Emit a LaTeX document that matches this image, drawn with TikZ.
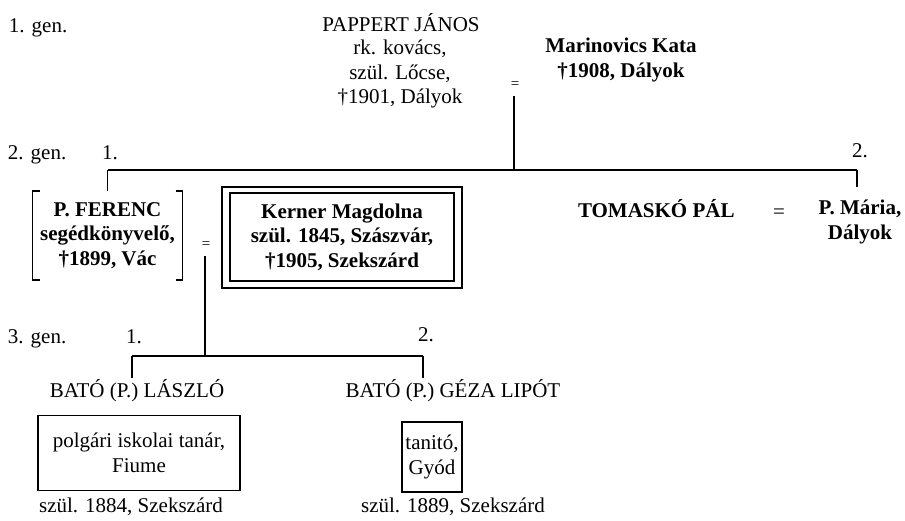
\documentclass[tikz,border=0pt]{standalone}
\usepackage{fontspec}
\setmainfont{Liberation Serif}
\begin{document}
\begin{tikzpicture}[x=1pt,y=-1pt,
  every node/.style={inner sep=0pt,outer sep=0pt,font=\fontsize{21}{24.5}\selectfont},
  txt/.style={anchor=base},
  blk/.style={anchor=north,align=center},
  bld/.style={font=\fontsize{21}{24.5}\selectfont\bfseries},
  eq/.style={anchor=base,font=\fontsize{15}{15}\selectfont},
  ln/.style={line width=1.1pt},
  bx/.style={draw,line width=1.1pt}]
\useasboundingbox (0,0) rectangle (905,520);
% generation labels
\node[txt,anchor=base west] (g1) at (9,32) {1. gen.};
\node[txt,anchor=base west] (g2) at (8,159) {2. gen.};
\node[txt,anchor=base west] (g3) at (8,343) {3. gen.};
% first generation
\node[txt] (pj) at (401,31) {PAPPERT JÁNOS};
\node[blk] (pjd) at (400,40) {rk. kovács,\\szül. Lőcse,\\†1901, Dályok};
\node[eq] (eq1) at (515,88) {=};
\node[blk,bld] (mk) at (621,38) {Marinovics Kata\\†1908, Dályok};
\coordinate (m1) at (514,96);
\coordinate (h1) at (514,170);
\coordinate (hl) at (107.5,170);
\coordinate (hr) at (857,170);
\draw[ln] (m1) -- (h1);
\draw[ln] (hl) -- (hr);
\node[txt] (n21) at (110,159) {1.};
\node[txt] (n22) at (860,157) {2.};
% P. Ferenc
\node[blk,bld,minimum width=150pt,minimum height=89pt,align=center] (pf) at (107.5,191) {P. FERENC\\segédkönyvelő,\\†1899, Vác};
\draw[ln] ([xshift=7pt]pf.north west) -- (pf.north west) -- (pf.south west) -- ([xshift=7pt]pf.south west);
\draw[ln] ([xshift=-7pt]pf.north east) -- (pf.north east) -- (pf.south east) -- ([xshift=-7pt]pf.south east);
\draw[ln] (hl) -- (pf.north);
\draw[ln] (hr) -- ++(0,17);
% Kerner
\node[bx,bld,minimum width=224pt,minimum height=88pt,align=center] (km) at (342,237) {Kerner Magdolna\\szül. 1845, Szászvár,\\†1905, Szekszárd};
\draw[line width=1.1pt] ([shift={(-8pt,6pt)}]km.north west) rectangle ([shift={(8pt,-7pt)}]km.south east);
\node[eq] (eq2) at (206,248) {=};
% Tomaskó
\node[txt,bld,anchor=base west] (tp) at (578,217) {TOMASKÓ PÁL};
\node[txt] (eq3) at (779,218) {=};
\node[blk,bld] (pm) at (860,200) {P. Mária,\\Dályok};
% third generation
\coordinate (m2) at (205,256);
\coordinate (h2) at (205,356);
\coordinate (h2l) at (132,356);
\coordinate (h2r) at (423,356);
\draw[ln] (m2) -- (h2);
\draw[ln] (h2l) -- (h2r);
\draw[ln] (h2l) -- ++(0,22);
\draw[ln] (h2r) -- ++(0,22);
\node[txt] (n31) at (134,343) {1.};
\node[txt] (n32) at (426,341) {2.};
\node[txt] (bl) at (137,397) {BATÓ (P.) LÁSZLÓ};
\node[bx,minimum width=202pt,minimum height=75pt,align=center] (blb) at (139,453) {polgári iskolai tanár,\\Fiume};
\node[txt] (bls) at (131,512) {szül. 1884, Szekszárd};
\node[txt] (bg) at (453,397) {BATÓ (P.) GÉZA LIPÓT};
\node[bx,minimum width=60pt,minimum height=70pt,align=center] (bgb) at (432,457) {tanitó,\\Gyód};
\node[txt] (bgs) at (453,512) {szül. 1889, Szekszárd};
\end{tikzpicture}
\end{document}
